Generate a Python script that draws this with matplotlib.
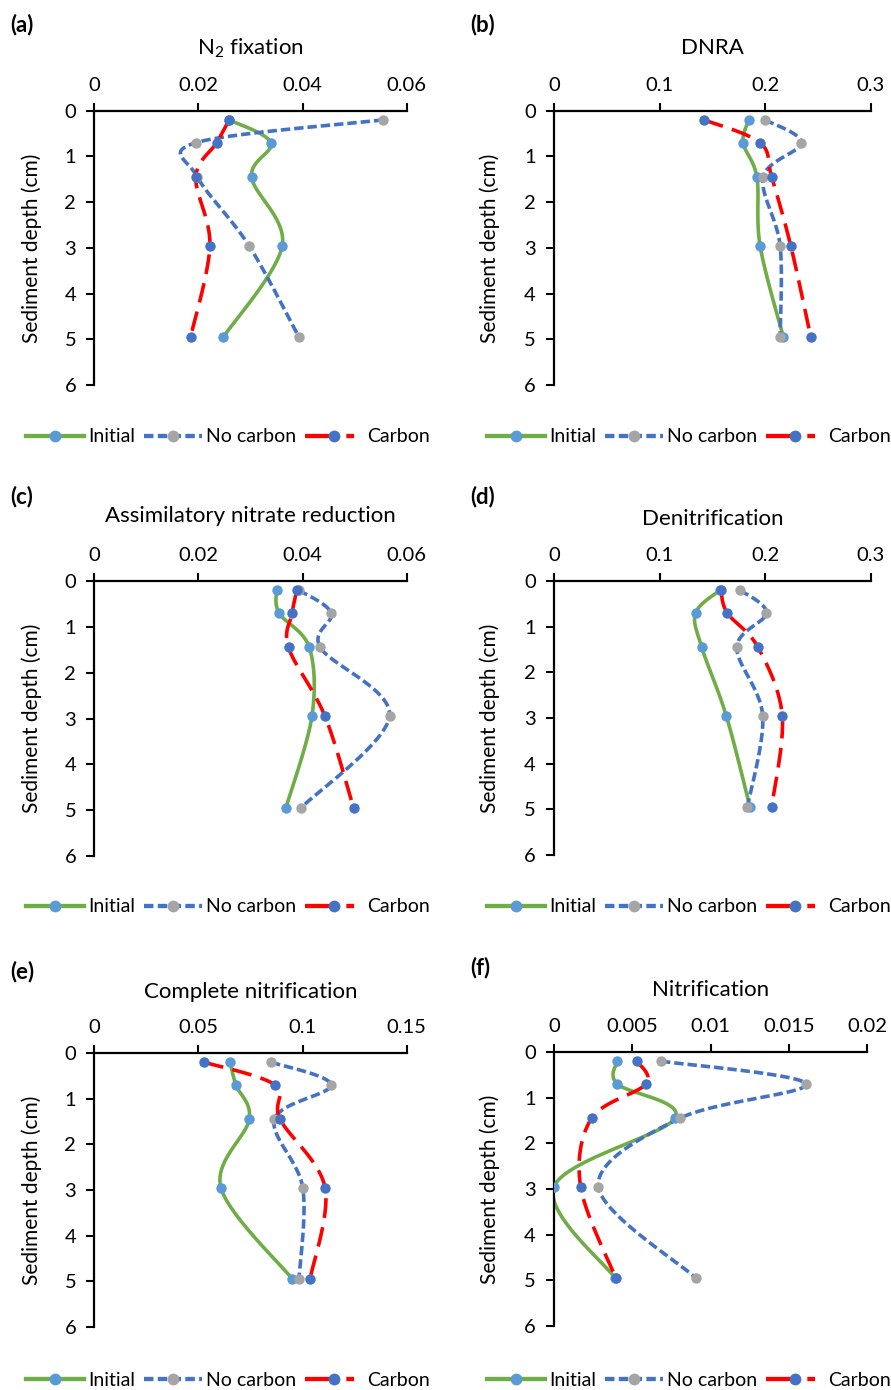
import numpy as np
import matplotlib
matplotlib.use("Agg")
import matplotlib.pyplot as plt
from matplotlib.lines import Line2D

plt.rcParams['font.family'] = ['Lato', 'DejaVu Sans']
plt.rcParams['mathtext.fontset'] = 'custom'
plt.rcParams['mathtext.rm'] = 'Lato'

# ---- data ----
depth = [0.2, 0.7, 1.45, 2.95, 4.95]

titles = [r'N$_\mathregular{2}$ fixation', 'DNRA', 'Assimilatory nitrate reduction',
          'Denitrification', 'Complete nitrification', 'Nitrification']
labels = ['(a)', '(b)', '(c)', '(d)', '(e)', '(f)']
series_names = ['Initial', 'No carbon', 'Carbon']

n2_initial = [0.0259, 0.0339, 0.0302, 0.0361, 0.0248]
n2_nocarbon = [0.0555, 0.0195, 0.0198, 0.0297, 0.0393]
n2_carbon = [0.0259, 0.0235, 0.0195, 0.0222, 0.0185]

dnra_initial = [0.1845, 0.179, 0.192, 0.195, 0.217]
dnra_nocarbon = [0.1997, 0.234, 0.198, 0.214, 0.214]
dnra_carbon = [0.142, 0.195, 0.206, 0.224, 0.243]

anr_initial = [0.0350, 0.0355, 0.0413, 0.0418, 0.0368]
anr_nocarbon = [0.0393, 0.0455, 0.0434, 0.0567, 0.0397]
anr_carbon = [0.0389, 0.0380, 0.0373, 0.0443, 0.0498]

den_initial = [0.157, 0.134, 0.1398, 0.163, 0.1855]
den_nocarbon = [0.1763, 0.201, 0.173, 0.1975, 0.183]
den_carbon = [0.158, 0.164, 0.193, 0.216, 0.206]

cn_initial = [0.0652, 0.068, 0.0744, 0.0608, 0.0951]
cn_nocarbon = [0.0849, 0.1137, 0.0865, 0.1001, 0.0983]
cn_carbon = [0.0527, 0.0868, 0.0892, 0.1108, 0.1036]

nit_initial = [0.00404, 0.00404, 0.00772, 0.0, 0.0039]
nit_nocarbon = [0.00683, 0.01609, 0.00804, 0.00283, 0.00906]
nit_carbon = [0.0053, 0.00587, 0.0024, 0.0017, 0.00394]

panel_data = [
    (n2_initial, n2_nocarbon, n2_carbon),
    (dnra_initial, dnra_nocarbon, dnra_carbon),
    (anr_initial, anr_nocarbon, anr_carbon),
    (den_initial, den_nocarbon, den_carbon),
    (cn_initial, cn_nocarbon, cn_carbon),
    (nit_initial, nit_nocarbon, nit_carbon),
]
xticks = [
    [0, 0.02, 0.04, 0.06],
    [0, 0.1, 0.2, 0.3],
    [0, 0.02, 0.04, 0.06],
    [0, 0.1, 0.2, 0.3],
    [0, 0.05, 0.1, 0.15],
    [0, 0.005, 0.01, 0.015, 0.02],
]
xticklabels = [
    ['0', '0.02', '0.04', '0.06'],
    ['0', '0.1', '0.2', '0.3'],
    ['0', '0.02', '0.04', '0.06'],
    ['0', '0.1', '0.2', '0.3'],
    ['0', '0.05', '0.1', '0.15'],
    ['0', '0.005', '0.01', '0.015', '0.02'],
]
yticks = [0, 1, 2, 3, 4, 5, 6]

# ---- style ----
W, H = 891, 1390
fig = plt.figure(figsize=(W / 100, H / 100), dpi=100)

# axes boxes in pixels: left, right, top, bottom
boxes = [
    (94.3, 406.7, 110.7, 385.0),
    (554.0, 871.0, 110.7, 385.0),
    (94.3, 406.7, 581.0, 856.0),
    (554.0, 871.0, 581.0, 855.0),
    (94.3, 406.7, 1053.0, 1327.0),
    (554.0, 867.3, 1052.0, 1326.0),
]
title_y = [48, 48, 516, 519, 992, 990]
label_xy = [(10, 25), (470, 25), (10, 497), (470, 497), (10, 972), (470, 968)]
ylabel_x = [42, 500, 42, 500, 42, 500]
legend_y = [437, 437, 907, 907, 1380, 1380]
legend_cx = [228, 689, 228, 689, 228, 689]

FS_TICK = 14.5
FS_TITLE = 16
FS_YLAB = 15
FS_LEG = 14
c_green = '#70AD47'
c_lblue = '#5B9BD5'
c_gray = '#A5A5A5'
c_blue = '#4472C4'
c_red = '#FF0000'
lw = 2.6
ms = 7.5


def smooth(x, y, n=30):
    """Excel-like smoothed curve (Catmull-Rom Bezier) through points."""
    P = np.column_stack([x, y]).astype(float)
    m = len(P)
    out = []
    t = np.linspace(0, 1, n)[:, None]
    for i in range(m - 1):
        p0 = P[i - 1] if i > 0 else P[i]
        p1 = P[i]
        p2 = P[i + 1]
        p3 = P[i + 2] if i + 2 < m else P[i + 1]
        c1 = p1 + (p2 - p0) / 6.0
        c2 = p2 - (p3 - p1) / 6.0
        seg = ((1 - t) ** 3) * p1 + 3 * ((1 - t) ** 2) * t * c1 + 3 * (1 - t) * t ** 2 * c2 + t ** 3 * p2
        out.append(seg if i == 0 else seg[1:])
    out = np.vstack(out)
    return out[:, 0], out[:, 1]


line_styles = [
    dict(color=c_green, mcolor=c_lblue, dashes=None, ldashes=None),
    dict(color=c_blue, mcolor=c_gray, dashes=(2.6, 1.1), ldashes=(2.2, 1.0)),
    dict(color=c_red, mcolor=c_blue, dashes=(5.5, 2.6), ldashes=(7.6, 2.0, 1.8, 20)),
]

for k in range(6):
    l, r, t, b = boxes[k]
    ax = fig.add_axes([l / W, 1 - b / H, (r - l) / W, (b - t) / H])
    for s in range(3):
        vals = panel_data[k][s]
        st = line_styles[s]
        xs, ys = smooth(vals, depth)
        ln, = ax.plot(xs, ys, color=st['color'], lw=lw, solid_capstyle='round',
                      dash_capstyle='butt', zorder=2 + s)
        if st['dashes'] is not None:
            ln.set_dashes(st['dashes'])
        ax.plot(vals, depth, 'o', color=st['mcolor'], ms=ms, mew=0, zorder=6 + s)

    ax.set_xlim(xticks[k][0], xticks[k][-1])
    ax.set_ylim(6, 0)
    ax.xaxis.tick_top()
    ax.set_xticks(xticks[k])
    ax.set_xticklabels(xticklabels[k])
    ax.set_yticks(yticks)
    ax.set_yticklabels([str(v) for v in yticks])
    ax.tick_params(axis='both', direction='out', length=6, width=1.5, labelsize=FS_TICK,
                   colors='black')
    ax.tick_params(axis='x', pad=6)
    ax.tick_params(axis='y', pad=7)
    for sp in ['right', 'bottom']:
        ax.spines[sp].set_visible(False)
    for sp in ['left', 'top']:
        ax.spines[sp].set_linewidth(1.6)
        ax.spines[sp].set_color('black')
    ax.patch.set_alpha(0)

    ax.set_ylabel('Sediment depth (cm)', fontsize=FS_YLAB)
    ax.yaxis.set_label_coords((ylabel_x[k] - l) / (r - l), 0.5)

    cx = (l + r) / 2
    fig.text(cx / W, 1 - title_y[k] / H, titles[k], fontsize=FS_TITLE,
             ha='center', va='center')
    lx, ly = label_xy[k]
    fig.text(lx / W, 1 - ly / H, labels[k], fontsize=16, fontweight='bold',
             ha='left', va='center')

    handles = []
    for s in range(3):
        st = line_styles[s]
        h = Line2D([0], [0], color=st['color'], lw=lw + 0.5, marker='o',
                   markerfacecolor=st['mcolor'], markeredgewidth=0, markersize=ms + 1,
                   dash_capstyle='butt')
        if st['ldashes'] is not None:
            h.set_dashes(st['ldashes'])
        handles.append(h)
    ax.legend(handles, series_names, loc='center', ncol=3, frameon=False,
              fontsize=FS_LEG, handlelength=3.0, handletextpad=0.2, columnspacing=0.45,
              borderpad=0, borderaxespad=0,
              bbox_to_anchor=(legend_cx[k] / W, 1 - legend_y[k] / H),
              bbox_transform=fig.transFigure)

fig.savefig('out.png', dpi=100)
